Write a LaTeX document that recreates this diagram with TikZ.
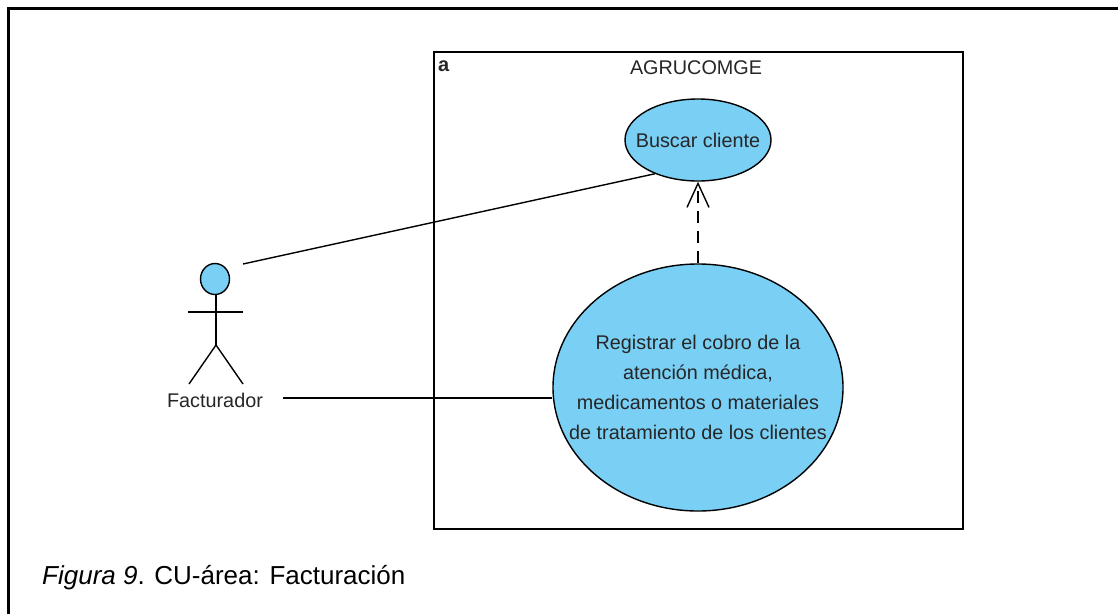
\documentclass[tikz,border=0pt]{standalone}
\usepackage{fontspec}
\setmainfont{Liberation Sans}
\usetikzlibrary{arrows.meta,shapes.geometric}
\definecolor{ucblue}{RGB}{122,207,245}
\tikzset{
	lbl/.style={font=\fontsize{19.8}{30}\selectfont,text=black!85,inner sep=0pt},
	uc/.style={ellipse,draw,fill=ucblue,line width=1.4pt,lbl,inner xsep=-30pt,align=center},
	line/.style={line width=1.4pt}
}
\begin{document}
\begin{tikzpicture}[x=1pt,y=-1pt]
		\useasboundingbox (0,0) rectangle (1118,614);
		% Rahmen
		\coordinate (frameb) at (8,614);
		\coordinate (framec) at (8,8);
		\coordinate (framer) at (1118,8);
		\draw[line width=3pt] (frameb) -- (framec) -- (framer);
		% System
		\node[draw,line width=1.4pt,minimum width=529pt,minimum height=477pt,inner sep=0pt] (sys) at (698.5,290.5) {};
		\node[lbl,font=\fontsize{20}{20}\selectfont\bfseries,anchor=base west] (a) at (438,71) {a};
		\node[lbl,anchor=base] (name) at (696,74) {AGRUCOMGE};
		% Verbindungen
		\coordinate (a1) at (243,264);
		\coordinate (a2) at (283,398);
		% Use Cases
		\node[uc,minimum width=146pt,minimum height=82pt] (buscar) at (698,140) {Buscar cliente};
		\node[uc,minimum width=290pt,minimum height=247pt] (reg) at (698,387.5) {Registrar el cobro de la\\atención médica,\\medicamentos o materiales\\de tratamiento de los clientes};
		\draw[line] (a1) -- (buscar.218);
		\draw[line] (a2) -- (reg.west |- a2);
		\draw[line,dash pattern=on 12pt off 8pt,-{Straight Barb[length=24pt,width=22pt]}] (reg.north) -- (buscar.south);
		% Akteur
		\node[ellipse,draw,fill=ucblue,line width=1.4pt,minimum width=29pt,minimum height=31pt,inner sep=0pt] (head) at (215,279) {};
		\coordinate (hip) at (216,345);
		\coordinate (footl) at (189,384);
		\coordinate (footr) at (243,384);
		\coordinate (arml) at (188,312);
		\coordinate (armr) at (243,312);
		\draw[line] (hip |- head.south) -- (hip);
		\draw[line] (arml) -- (armr);
		\draw[line] (footl) -- (hip) -- (footr);
		\node[lbl,anchor=base] (fact) at (215,407) {Facturador};
		% Beschriftung
		\node[font=\fontsize{26}{30}\selectfont,anchor=base west,inner sep=0pt] (cap) at (42,584) {\textit{Figura 9}. CU-área: Facturación};
	\end{tikzpicture}
\end{document}
